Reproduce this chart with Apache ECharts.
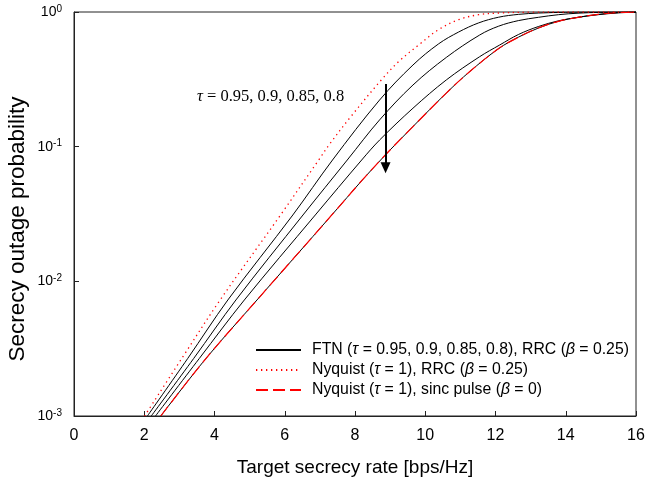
<!DOCTYPE html>
<html>
<head>
<meta charset="utf-8">
<script src="https://cdn.jsdelivr.net/npm/echarts@6/dist/echarts.min.js"></script>
<style>
  html, body { margin: 0; padding: 0; background: #fff; }
  #chart { width: 647px; height: 482px; }
</style>
</head>
<body>
<div id="chart"></div>
<script>
// Secrecy outage probability vs. target secrecy rate, read as [rate, probability] pairs.
const nyquistRrc = [
  [2.01, 0.001], [3.07, 0.00268], [4.16, 0.00727], [5.88, 0.0311], [7.0, 0.082],
  [7.26, 0.103], [7.88, 0.167], [8.75, 0.313], [9.25, 0.43], [9.82, 0.571],
  [10.37, 0.737], [10.95, 0.877], [11.52, 0.955], [12.09, 0.983], [13.0, 0.997],
  [14.0, 1.0], [16.0, 1.0]
];
const ftnTau095 = [
  [2.09, 0.001], [3.24, 0.00268], [4.38, 0.00727], [6.23, 0.0311], [7.36, 0.0796],
  [8.70, 0.222], [9.65, 0.404], [10.38, 0.58], [10.95, 0.71], [11.52, 0.83],
  [12.09, 0.915], [12.65, 0.96], [13.22, 0.982], [14.0, 0.995], [15.0, 1.0], [16.0, 1.0]
];
const ftnTau090 = [
  [2.20, 0.001], [3.41, 0.00268], [4.61, 0.00727], [6.52, 0.0311], [7.78, 0.0796],
  [8.70, 0.158], [9.65, 0.287], [10.60, 0.46], [11.55, 0.675], [12.09, 0.785],
  [12.65, 0.863], [13.22, 0.913], [13.79, 0.955], [14.35, 0.98], [15.0, 0.994], [16.0, 1.0]
];
const ftnTau085 = [
  [2.32, 0.001], [3.57, 0.00268], [4.85, 0.00727], [6.87, 0.0311], [8.19, 0.0796],
  [8.70, 0.112], [9.65, 0.193], [10.60, 0.313], [11.55, 0.466], [12.12, 0.569],
  [12.65, 0.68], [13.22, 0.78], [13.79, 0.86], [14.35, 0.913], [14.92, 0.955],
  [15.5, 0.985], [16.0, 0.997]
];
const ftnTau080 = [
  [2.47, 0.001], [3.76, 0.00268], [5.21, 0.00727], [7.34, 0.0311], [8.21, 0.0566],
  [8.73, 0.0796], [8.99, 0.094], [9.65, 0.141], [10.60, 0.25], [11.26, 0.36],
  [12.09, 0.535], [12.65, 0.65], [13.22, 0.76], [13.79, 0.853], [14.35, 0.913],
  [14.92, 0.96], [15.5, 0.99], [16.0, 1.0]
];
const nyquistSinc = [
  [2.47, 0.001], [3.76, 0.00268], [5.21, 0.00727], [7.34, 0.0311], [8.21, 0.0566],
  [8.73, 0.0796], [8.99, 0.094], [9.65, 0.141], [10.60, 0.25], [11.26, 0.36],
  [12.09, 0.535], [12.65, 0.65], [13.22, 0.76], [13.79, 0.853], [14.35, 0.913],
  [14.92, 0.96], [15.5, 0.99], [16.0, 1.0]
];

const xTicks = [0, 2, 4, 6, 8, 10, 12, 14, 16];
const legendNames = [
  'FTN (τ = 0.95, 0.9, 0.85, 0.8), RRC (β = 0.25)',
  'Nyquist (τ = 1), RRC (β = 0.25)',
  'Nyquist (τ = 1), sinc pulse (β = 0)'
];
const annotationText = 'τ = 0.95, 0.9, 0.85, 0.8';
// arrow showing the direction of decreasing τ
const arrowFrom = [8.87, 0.292];
const arrowTo = [8.87, 0.0697];

const SANS = '"Liberation Sans", Arial, Helvetica, sans-serif';
const SERIF = '"Liberation Serif", "DejaVu Serif", serif';

function ftnSeries(data) {
  return {
    type: 'line', name: legendNames[0], data: data,
    showSymbol: false, symbol: 'none', smooth: 0.35,
    lineStyle: { color: '#000', width: 1, type: 'solid' },
    itemStyle: { color: '#000' }, z: 2
  };
}

const chart = echarts.init(document.getElementById('chart'), null, { renderer: 'canvas' });

chart.setOption({
  animation: false,
  backgroundColor: '#fff',
  grid: {
    left: 74, right: 11, top: 12, bottom: 66,
    outerBoundsMode: 'none', containLabel: false,
    show: true, borderColor: '#222', borderWidth: 1, backgroundColor: 'transparent'
  },
  xAxis: {
    type: 'value', min: xTicks[0], max: xTicks[xTicks.length - 1], interval: 2,
    name: 'Target secrecy rate [bps/Hz]', nameLocation: 'middle', nameGap: 42,
    nameMoveOverlap: false,
    nameTextStyle: { fontFamily: SANS, fontSize: 19, color: '#000' },
    axisLine: { lineStyle: { color: '#222', width: 1 } },
    axisTick: { inside: true, length: 5, lineStyle: { color: '#222' } },
    axisLabel: { fontFamily: SANS, fontSize: 16, color: '#000', margin: 12 },
    splitLine: { show: false }
  },
  yAxis: {
    type: 'log', logBase: 10, min: 0.001, max: 1,
    name: 'Secrecy outage probability', nameLocation: 'middle', nameGap: 45,
    nameMoveOverlap: false,
    nameTextStyle: { fontFamily: SANS, fontSize: 22.5, color: '#000', padding: [0, 30, 0, 0] },
    axisLine: { lineStyle: { color: '#222', width: 1 } },
    axisTick: { inside: true, length: 5, lineStyle: { color: '#222' } },
    minorTick: { show: false },
    axisLabel: {
      fontFamily: SANS, fontSize: 14, color: '#000', margin: 12,
      formatter: function (v) {
        return '{b|10}{s|' + Math.round(Math.log10(v)) + '}';
      },
      rich: {
        b: { fontFamily: SANS, fontSize: 14, color: '#000', lineHeight: 16 },
        s: { fontFamily: SANS, fontSize: 10, color: '#000', verticalAlign: 'top', lineHeight: 10 }
      }
    },
    splitLine: { show: false }
  },
  legend: {
    data: legendNames,
    orient: 'vertical', left: 250, top: 337,
    itemWidth: 45, itemHeight: 14, itemGap: 4,
    itemStyle: { opacity: 0 },
    textStyle: {
      fontFamily: SANS, fontSize: 15.8, color: '#000',
      rich: {
        n: { fontFamily: SANS, fontSize: 15.8, color: '#000', padding: [0, 0, 0, 6] },
        m: { fontFamily: SANS, fontSize: 15.8, color: '#000' },
        i: { fontFamily: SANS, fontSize: 15.8, color: '#000', fontStyle: 'italic' }
      }
    },
    formatter: function (name) {
      const parts = name.split(/([τβ])/);
      return parts.map(function (p, k) {
        if (p === 'τ' || p === 'β') return '{i|' + p + '}';
        if (p === '') return '';
        return (k === 0 ? '{n|' : '{m|') + p + '}';
      }).join('');
    },
    selectedMode: false
  },
  graphic: [{
    type: 'text', left: 197, top: 88, silent: true,
    style: {
      text: annotationText.replace('τ', '{i|τ}'),
      font: '16.5px ' + SERIF, fill: '#000',
      rich: { i: { fontFamily: SERIF, fontSize: 16.5, fontStyle: 'italic', fill: '#000' } }
    }
  }],
  series: [
    ftnSeries(ftnTau095),
    ftnSeries(ftnTau090),
    ftnSeries(ftnTau085),
    ftnSeries(ftnTau080),
    {
      type: 'line', name: legendNames[1], data: nyquistRrc,
      showSymbol: false, symbol: 'none', smooth: 0.35,
      lineStyle: { color: '#ff0000', width: 1.3, type: [1.3, 3.7] },
      itemStyle: { color: '#ff0000' }, z: 3,
      markLine: {
        silent: true, symbol: ['none', 'triangle'], symbolSize: [10, 11],
        label: { show: false },
        lineStyle: { color: '#000', width: 2, type: 'solid' },
        data: [[{ coord: arrowFrom }, { coord: arrowTo }]]
      }
    },
    {
      type: 'line', name: legendNames[2], data: nyquistSinc,
      showSymbol: false, symbol: 'none', smooth: 0.35,
      lineStyle: { color: '#ff0000', width: 1.2, type: [12, 5] },
      itemStyle: { color: '#ff0000' }, z: 4
    }
  ]
});
</script>
</body>
</html>
